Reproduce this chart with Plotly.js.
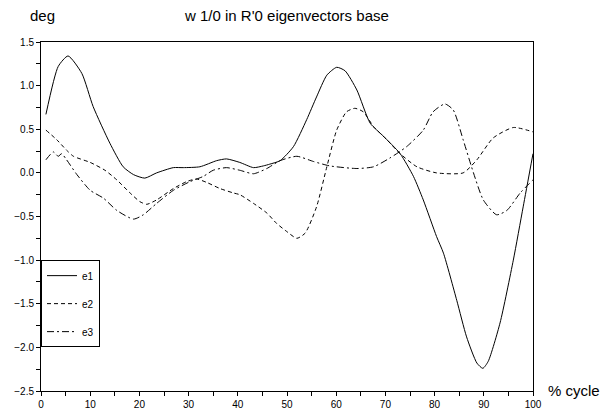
<!DOCTYPE html>
<html>
<head>
<meta charset="utf-8">
<script src="https://cdn.plot.ly/plotly-3.0.1.min.js"></script>
<style>html,body{margin:0;padding:0;background:#fff;}#chart{width:616px;height:411px;}</style>
</head>
<body>
<div id="chart"></div>
<script>
const e1X = [1, 3.5, 5.5, 8.3, 10.6, 14, 16.7, 18.8, 21.1, 23.5, 26.9, 28.9, 32.3, 35.7, 37.7, 40.4, 43.2, 45.2, 46.5, 48.6, 51.3, 54, 56, 58.1, 60.1, 61.8, 64.2, 66.9, 69.6, 73, 75.7, 77.7, 80.4, 81.8, 84.5, 86.5, 88.6, 89.8, 90.9, 93.3, 96, 98, 100];
const e1Y = [0.67, 1.22, 1.34, 1.14, 0.76, 0.34, 0.07, -0.02, -0.06, 0.0, 0.06, 0.06, 0.07, 0.14, 0.16, 0.12, 0.06, 0.08, 0.1, 0.14, 0.30, 0.61, 0.87, 1.12, 1.21, 1.17, 0.95, 0.57, 0.42, 0.22, -0.04, -0.31, -0.73, -0.92, -1.46, -1.88, -2.18, -2.24, -2.16, -1.72, -1.0, -0.39, 0.22];

const e2X = [1, 3.2, 5.2, 6.6, 10, 13, 15.4, 18.1, 20.1, 21.5, 23.5, 26.9, 29.6, 31.6, 33.7, 36.4, 39.1, 40.4, 43.2, 45.9, 47.9, 49.9, 52, 53.7, 56, 58.1, 60.1, 62.1, 63.8, 65.5, 67.6, 70.3, 73, 76.4, 80.4, 85.8, 88.6, 91.9, 96, 100];
const e2Y = [0.49, 0.38, 0.26, 0.19, 0.12, 0.03, -0.08, -0.23, -0.33, -0.36, -0.31, -0.18, -0.1, -0.07, -0.11, -0.18, -0.23, -0.25, -0.35, -0.46, -0.58, -0.67, -0.75, -0.69, -0.39, 0.07, 0.49, 0.70, 0.74, 0.70, 0.53, 0.38, 0.22, 0.07, 0.0, 0.0, 0.15, 0.40, 0.52, 0.47];

const e3X = [1, 2.5, 3.5, 4.2, 5.2, 7.3, 10, 12.7, 15.4, 18.8, 20.8, 23.5, 26.9, 30.3, 33, 35, 37.7, 40.4, 43.2, 45.9, 48.6, 52, 55.4, 58.7, 64.2, 67.6, 70.9, 74.3, 77.7, 79.7, 82.1, 83.8, 85.8, 87.9, 89.9, 92.6, 94.7, 97.4, 100];
const e3Y = [0.15, 0.24, 0.19, 0.22, 0.15, -0.02, -0.2, -0.29, -0.43, -0.53, -0.48, -0.35, -0.2, -0.1, -0.04, 0.03, 0.06, 0.03, -0.01, 0.05, 0.14, 0.19, 0.13, 0.08, 0.05, 0.07, 0.17, 0.30, 0.49, 0.70, 0.79, 0.72, 0.38, 0.0, -0.31, -0.48, -0.43, -0.23, -0.08];

const names = ['e1', 'e2', 'e3'];
const xTicks = [0, 10, 20, 30, 40, 50, 60, 70, 80, 90, 100];
const yTicks = [-2.5, -2.0, -1.5, -1.0, -0.5, 0.0, 0.5, 1.0, 1.5];

const font = {family: 'Liberation Sans, Arial, sans-serif', color: '#000'};
const mk = (x, y, name, dash, g) => ({
  x, y, name, type: 'scatter', mode: 'lines', legendgroup: g,
  line: {color: '#000', width: 1, dash, shape: 'spline', smoothing: 0.6}
});
const data = [
  mk(e1X, e1Y, names[0], 'solid', 'a'),
  mk(e2X, e2Y, names[1], '4px,3px', 'b'),
  mk(e3X, e3Y, names[2], '7px,3px,2px,3px', 'c')
];
const layout = {
  width: 616, height: 411,
  margin: {l: 41, r: 83, t: 42, b: 20},
  paper_bgcolor: '#fff', plot_bgcolor: '#fff',
  font: Object.assign({size: 10}, font),
  showlegend: true,
  legend: {
    x: 0, y: 0.375, xanchor: 'left', yanchor: 'top',
    bordercolor: '#000', borderwidth: 1, bgcolor: 'rgba(255,255,255,0)',
    traceorder: 'grouped', tracegroupgap: 9,
    font: Object.assign({size: 10}, font), itemwidth: 30
  },
  xaxis: {
    range: [0, 100], tickvals: xTicks, ticktext: xTicks.map(String),
    showgrid: false, zeroline: false, showline: true, linecolor: '#000', linewidth: 1,
    mirror: true, ticks: 'outside', ticklen: 4, tickcolor: '#000',
    minor: {dtick: 5, ticks: 'outside', ticklen: 4, tickcolor: '#000', showgrid: false},
    tickfont: Object.assign({size: 10}, font)
  },
  yaxis: {
    range: [-2.5, 1.5], tickvals: yTicks, ticktext: yTicks.map(v => v.toFixed(1).replace('-', '\u2212')),
    showgrid: false, zeroline: false, showline: true, linecolor: '#000', linewidth: 1,
    mirror: true, ticks: 'outside', ticklen: 4, tickcolor: '#000',
    minor: {dtick: 0.25, ticks: 'outside', ticklen: 4, tickcolor: '#000', showgrid: false},
    tickfont: Object.assign({size: 10}, font)
  },
  annotations: [
    {text: 'w 1/0 in R\'0 eigenvectors base', xref: 'paper', yref: 'paper', x: 0.4980, y: 1, yshift: 27, showarrow: false, font: Object.assign({size: 15}, font), xanchor: 'center', yanchor: 'middle'},
    {text: 'deg', xref: 'paper', yref: 'paper', x: -0.0264, y: 1, yshift: 27, showarrow: false, font: Object.assign({size: 15}, font), xanchor: 'left', yanchor: 'middle'},
    {text: '% cycle', xref: 'paper', yref: 'paper', x: 1, xshift: 13, y: 0, yshift: 1, showarrow: false, font: Object.assign({size: 15}, font), xanchor: 'left', yanchor: 'middle'}
  ]
};
Plotly.newPlot('chart', data, layout, {displayModeBar: false, staticPlot: true});
</script>
</body>
</html>
